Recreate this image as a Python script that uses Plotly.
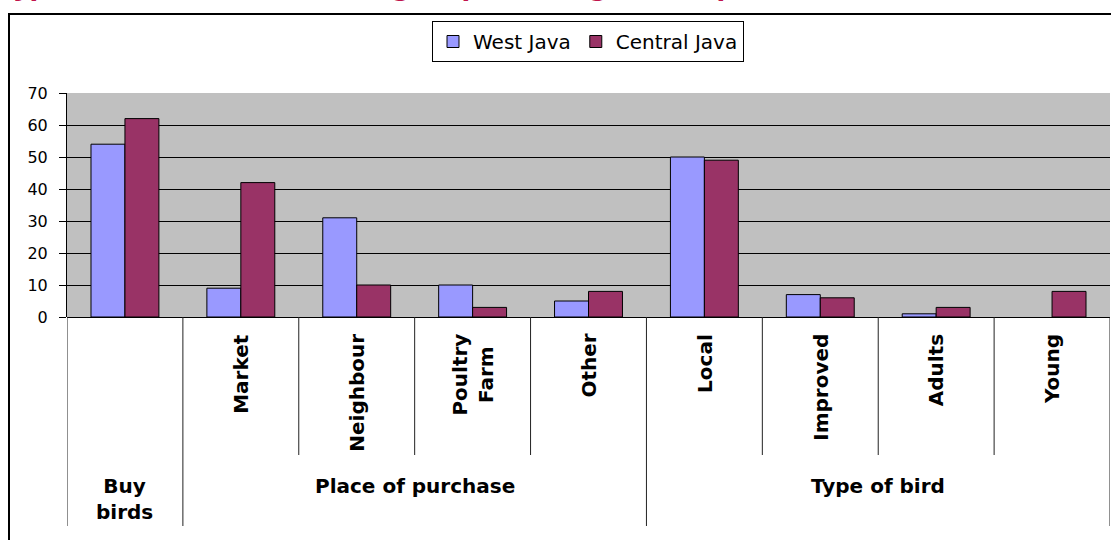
import plotly.graph_objects as go

# Category data
categories = ["Buy birds", "Market", "Neighbour", "Poultry Farm", "Other",
              "Local", "Improved", "Adults", "Young"]
inner_labels = ["", "Market", "Neighbour", "Poultry<br>Farm", "Other",
                "Local", "Improved", "Adults", "Young"]
group_labels = ["Buy<br>birds", "Place of purchase", "Type of bird"]
group_first = [0, 1, 5]
group_last = [0, 4, 8]

west_java = [54, 9, 31, 10, 5, 50, 7, 1, 0]
central_java = [62, 42, 10, 3, 8, 49, 6, 3, 8]

title_text = "Type of bird and where bought (percentage of respondents)"

# Pixel geometry of the plot area
W, H = 1111, 540
L, R, T, B = 67, 1, 93, 223
PW, PH = W - L - R, H - T - B


def px_x(px):
    return (px - L) / PW


def px_y(py):
    return (H - B - py) / PH


idx = list(range(len(categories)))


def outline(values):
    # no outline on empty bars
    return [1 if v > 0 else 0 for v in values]


fig = go.Figure()
fig.add_trace(go.Bar(x=idx, y=west_java, name="West Java",
                     marker=dict(color="#9999FF",
                                 line=dict(color="black", width=outline(west_java)))))
fig.add_trace(go.Bar(x=idx, y=central_java, name="Central Java",
                     marker=dict(color="#993366",
                                 line=dict(color="black", width=outline(central_java)))))

shapes = []
# outer chart frame
shapes.append(dict(type="rect", xref="paper", yref="paper",
                   x0=px_x(9), x1=px_x(1125), y0=px_y(560), y1=px_y(14),
                   line=dict(color="black", width=2), fillcolor="rgba(0,0,0,0)",
                   layer="above"))

# category separators below the axis
group_edges = {-0.5} | {g - 0.5 for g in group_first} | {len(categories) - 0.5}
for k in range(len(categories) + 1):
    xe = k - 0.5
    long_line = xe in group_edges
    shapes.append(dict(type="line", xref="x", yref="paper",
                       x0=xe, x1=xe, y0=0, y1=px_y(526 if long_line else 455),
                       line=dict(color="#222222", width=1)))

annotations = []
for i, lab in enumerate(inner_labels):
    if not lab:
        continue
    annotations.append(dict(x=i, y=px_y(332), xref="x", yref="paper",
                            text=lab, textangle=-90, showarrow=False,
                            xanchor="center", yanchor="top",
                            font=dict(family="DejaVu Sans", size=20,
                                      color="black", weight="bold")))
for lab, a, b in zip(group_labels, group_first, group_last):
    annotations.append(dict(x=(a + b) / 2, y=px_y(472), xref="x", yref="paper",
                            text=lab, showarrow=False,
                            xanchor="center", yanchor="top",
                            font=dict(family="DejaVu Sans", size=20,
                                      color="black", weight="bold")))
annotations.append(dict(x=px_x(0), y=px_y(4.5), xref="paper", yref="paper",
                        text=title_text, showarrow=False,
                        xanchor="left", yanchor="bottom",
                        font=dict(family="DejaVu Sans", size=25.5, color="#C0144C",
                                  weight="bold", style="italic")))

fig.update_layout(
    width=W, height=H,
    margin=dict(l=L, r=R, t=T, b=B, pad=0),
    paper_bgcolor="white", plot_bgcolor="#C0C0C0",
    barmode="group", bargap=0.414, bargroupgap=0,
    showlegend=True,
    legend=dict(orientation="h", x=px_x(588), xanchor="center",
                y=px_y(21), yanchor="top", itemwidth=30,
                bordercolor="black", borderwidth=1, bgcolor="white",
                font=dict(family="DejaVu Sans", size=20, color="black")),
    xaxis=dict(range=[-0.5, len(categories) - 0.5], showticklabels=False,
               showgrid=False, zeroline=False, showline=False, ticks=""),
    yaxis=dict(range=[0, 70], dtick=10, showgrid=True, gridcolor="black",
               gridwidth=1, zeroline=True, zerolinecolor="black",
               zerolinewidth=1, showline=True, linecolor="black", linewidth=1,
               ticks="outside", ticklen=7, tickcolor="black",
               ticklabelstandoff=8,
               tickfont=dict(family="DejaVu Sans", size=16, color="black")),
    shapes=shapes,
    annotations=annotations,
)

fig.write_html("out.html")
